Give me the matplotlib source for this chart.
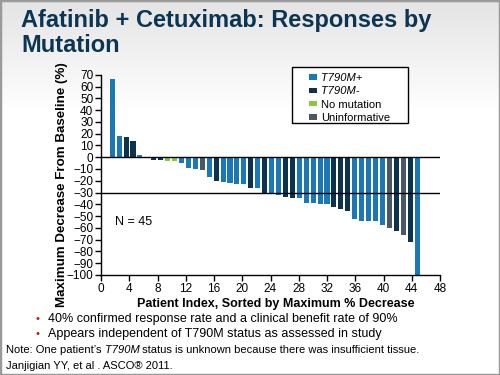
import numpy as np
import matplotlib
matplotlib.use("Agg")
import matplotlib.pyplot as plt
from matplotlib.patches import Patch, Rectangle
from matplotlib.colors import LinearSegmentedColormap

plt.rcParams['font.family'] = ['Liberation Sans', 'DejaVu Sans']

# ---- data ----
values = [66, 18, 17, 14, 2, 0, -2, -2.3, -3.4, -3.4,
          -5.3, -9, -10.4, -11.2, -16.5, -20.5, -21, -21.9, -22.4, -22.7,
          -25.8, -26.4, -30, -31.4, -31.7, -33.6, -34.5, -34.5, -39, -39,
          -39.8, -40, -42.6, -43.7, -45.4, -52.4, -53.8, -53.8, -53.8, -57.5,
          -59.7, -63, -66, -72, -100]
status = ['+', '+', '-', '-', '+', '+', '-', '-', 'n', 'n',
          '+', '+', '+', 'u', '+', '-', '+', '+', '+', '+',
          '-', '+', '-', '+', '+', '-', '-', '+', '+', '+',
          '+', '+', '-', '-', '-', '+', '+', '+', '+', '+',
          'u', '-', 'u', '-', '+']
legend_labels = ['T790M+', 'T790M-', 'No mutation', 'Uninformative']
legend_keys = ['+', '-', 'n', 'u']
xticks = list(range(0, 49, 4))
yticks = list(range(-100, 71, 10))
bullets = ["40% confirmed response rate and a clinical benefit rate of 90%",
           "Appears independent of T790M status as assessed in study"]

colors = {'+': '#1c77b6', '-': '#0d324d', 'n': '#8cc63e', 'u': '#4b5864'}

W, H = 500, 375
fig = plt.figure(figsize=(5, 3.75), dpi=100)
fig.patch.set_facecolor('white')

def fx(px):
    return px / W

def fy(py):
    return 1 - py / H

# background gradient
bg = fig.add_axes([0, 0, 1, 1], zorder=-10)
grad = np.linspace(0, 1, 256).reshape(-1, 1)
grad = np.clip(grad / 0.3, 0, 1)
cm = LinearSegmentedColormap.from_list('g', ['#e4e4e4', '#ffffff'])
bg.imshow(grad, aspect='auto', cmap=cm, extent=[0, 1, 0, 1], origin='upper')
bg.add_patch(Rectangle((0, 0), 1, 1, transform=bg.transAxes, fill=False,
                       edgecolor='#9a9a9a', lw=2.5))
bg.set_axis_off()

fig.text(fx(21), fy(9), "Afatinib + Cetuximab: Responses by\nMutation",
         fontsize=17, fontweight='bold', color='#0b3553', va='top', ha='left',
         linespacing=1.12)

ax = fig.add_axes([0.202, 0.2667, 0.678, 0.534])
ax.set_facecolor('none')
n = len(values)
pos = 1.59 + np.arange(n) * 0.981
ax.bar(pos, values, width=0.72, color=[colors[s] for s in status], zorder=2)
ax.axhline(0, color='black', lw=1, zorder=3)
ax.axhline(-30, color='black', lw=1, zorder=3)
ax.set_xlim(0, 48)
ax.set_ylim(-100, 70)
ax.set_xticks(xticks)
ax.set_yticks(yticks)
ax.tick_params(direction='out', length=4, width=1, labelsize=8.5, pad=1.5)
for s in ['top', 'right']:
    ax.spines[s].set_visible(False)
ax.spines['left'].set_linewidth(1)
ax.spines['bottom'].set_linewidth(1)
ax.set_ylabel("Maximum Decrease From Baseline (%)", fontsize=9.6,
              fontweight='bold')
ax.yaxis.set_label_coords((68 - 101) / 339, 0.45)
ax.set_xlabel("Patient Index, Sorted by Maximum % Decrease", fontsize=9,
              fontweight='bold')
ax.xaxis.set_label_coords((276 - 101) / 339, -(304 - 275) / 200)
ax.xaxis.label.set_va('center')
ax.text(2, -55, "N = 45", fontsize=9, va='center', ha='left')

# legend
fig.add_artist(Rectangle((fx(292), fy(123)), fx(408) - fx(292), fy(67) - fy(123),
                         transform=fig.transFigure, facecolor='white',
                         edgecolor='black', lw=1, zorder=5))
handles = [Patch(facecolor=colors[k], edgecolor='none') for k in legend_keys]
leg = fig.legend(handles, legend_labels, loc='upper left',
                 bbox_to_anchor=(fx(309), fy(73)), fontsize=8, frameon=False,
                 handlelength=0.75, handleheight=0.35, handletextpad=0.35,
                 borderpad=0, labelspacing=0.3, borderaxespad=0)
leg.set_zorder(6)
for t in leg.get_texts()[:2]:
    t.set_style('italic')

for i, (yy, txt) in enumerate(zip([319, 334], bullets)):
    fig.text(fx(35), fy(yy), "\u2022", color='#b22222', fontsize=8, va='center')
    fig.text(fx(48), fy(yy), txt, fontsize=9, va='center')

y_note = fy(350)
t1 = fig.text(fx(6), y_note, "Note: One patient\u2019s ", fontsize=8, va='center')
fig.canvas.draw()
r = fig.canvas.get_renderer()
bb = t1.get_window_extent(r)
t2 = fig.text(bb.x1 / fig.bbox.width, y_note, "T790M", fontsize=8,
              style='italic', va='center')
bb2 = t2.get_window_extent(r)
fig.text(bb2.x1 / fig.bbox.width, y_note,
         " status is unknown because there was insufficient tissue.",
         fontsize=8, va='center')
fig.text(fx(6), fy(366), "Janjigian YY, et al . ASCO\u00ae 2011.",
         fontsize=8, va='center')

fig.savefig('out.png', dpi=100)
